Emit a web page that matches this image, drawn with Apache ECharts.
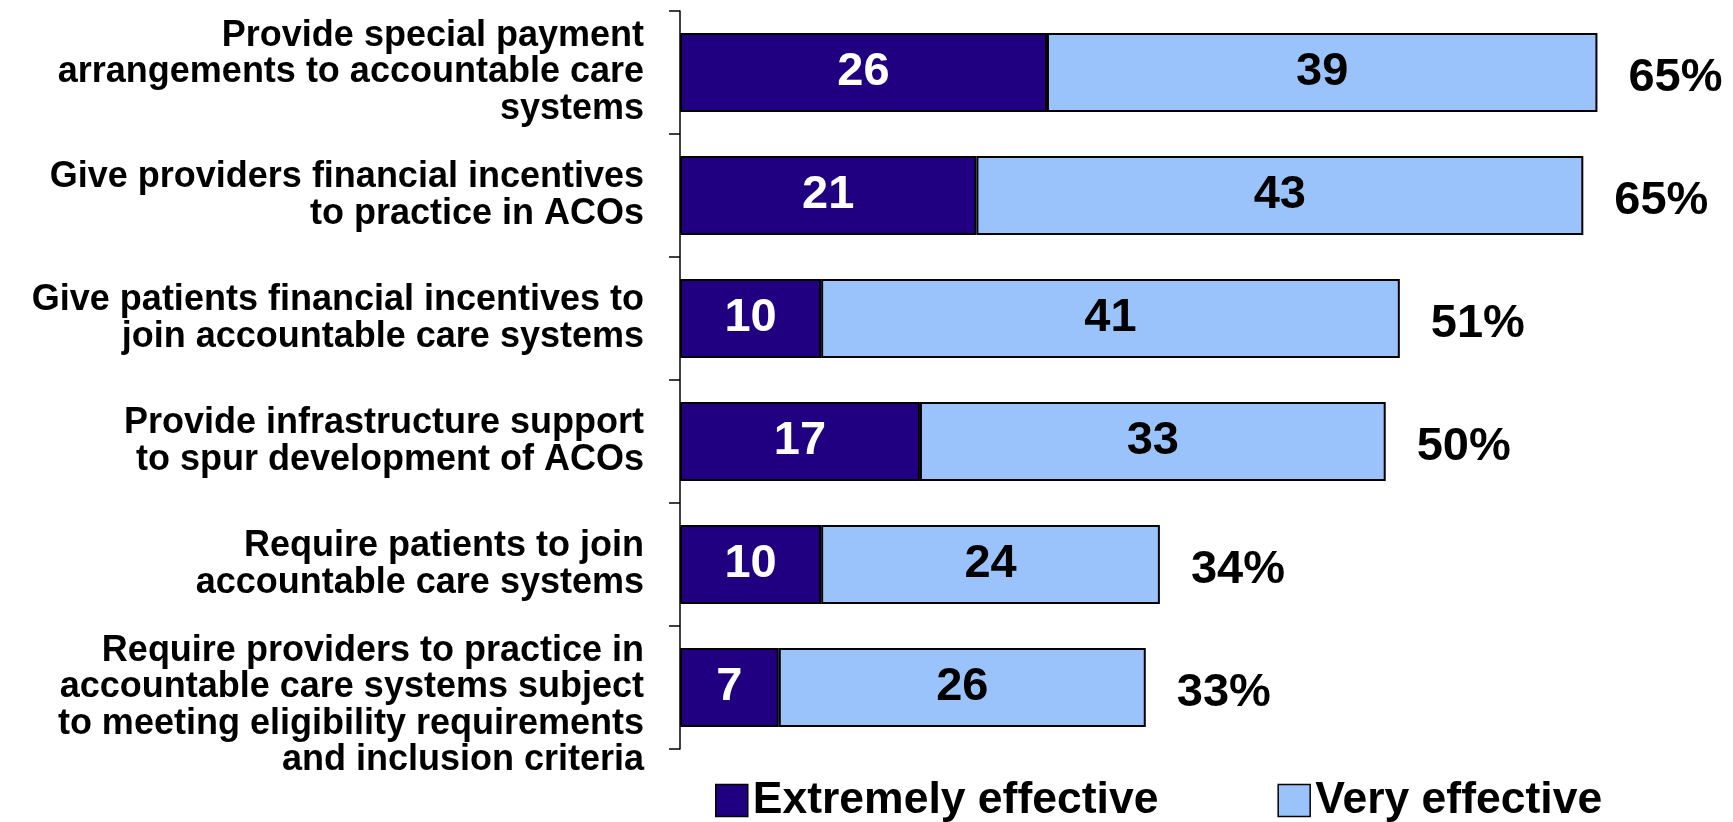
<!DOCTYPE html>
<html>
<head>
<meta charset="utf-8">
<script src="https://cdn.jsdelivr.net/npm/echarts@6/dist/echarts.min.js"></script>
<style>
html,body{margin:0;padding:0;background:#fff;}
#chart{width:1733px;height:822px;}
</style>
</head>
<body>
<div id="chart"></div>
<script>
const categories = [
  "Provide special payment\narrangements to accountable care\nsystems",
  "Give providers financial incentives\nto practice in ACOs",
  "Give patients financial incentives to\njoin accountable care systems",
  "Provide infrastructure support\nto spur development of ACOs",
  "Require patients to join\naccountable care systems",
  "Require providers to practice in\naccountable care systems subject\nto meeting eligibility requirements\nand inclusion criteria"
];
const extremelyEffective = [26, 21, 10, 17, 10, 7];
const veryEffective = [39, 43, 41, 33, 24, 26];
const totalLabels = ["65%", "65%", "51%", "50%", "34%", "33%"];
const seriesNames = ["Extremely effective", "Very effective"];

const FONT = "'Liberation Sans', Arial, Helvetica, sans-serif";
const DARK = "#200080";
const LIGHT = "#99C3FA";

const chart = echarts.init(document.getElementById('chart'));
chart.setOption({
  animation: false,
  backgroundColor: '#ffffff',
  textStyle: { fontFamily: FONT },
  grid: { left: 680, top: 11, height: 738, right: 65 },
  legend: {
    data: seriesNames,
    left: 710,
    top: 773,
    icon: 'rect',
    itemWidth: 32,
    itemHeight: 32,
    itemGap: 119,
    textStyle: { fontFamily: FONT, fontWeight: 'bold', fontSize: 44.5, color: '#000', lineHeight: 44 },
    itemStyle: { borderColor: '#000', borderWidth: 1.5 }
  },
  xAxis: {
    type: 'value', min: 0, max: 70, show: false,
    splitLine: { show: false }
  },
  yAxis: {
    type: 'category',
    inverse: true,
    data: categories,
    axisLine: { show: true, lineStyle: { color: '#000', width: 1.5 } },
    axisTick: { show: true, length: 11, lineStyle: { color: '#000', width: 1.5 } },
    axisLabel: {
      interval: 0,
      hideOverlap: false,
      showMinLabel: true,
      showMaxLabel: true,
      margin: 36,
      fontFamily: FONT,
      fontWeight: 'bold',
      fontSize: 36,
      lineHeight: 36.5,
      color: '#000',
      align: 'right',
      formatter: (v, i) => (i === categories.length - 1 ? '\n' + v : v)
    }
  },
  series: [
    {
      name: seriesNames[0], type: 'bar', stack: 'a', barWidth: 79,
      data: extremelyEffective,
      itemStyle: { color: DARK, borderColor: '#000', borderWidth: 2 },
      label: { show: true, position: 'inside', color: '#fff', fontFamily: FONT, fontWeight: 'bold', fontSize: 47 }
    },
    {
      name: seriesNames[1], type: 'bar', stack: 'a', barWidth: 79,
      data: veryEffective,
      itemStyle: { color: LIGHT, borderColor: '#000', borderWidth: 2 },
      label: { show: true, position: 'inside', color: '#000', fontFamily: FONT, fontWeight: 'bold', fontSize: 47 }
    },
    {
      name: 'total', type: 'bar', stack: 'a', barWidth: 79,
      data: categories.map(() => 0),
      itemStyle: { color: 'rgba(0,0,0,0)', borderWidth: 0 },
      label: {
        show: true, position: 'right', distance: 31, offset: [0, 6],
        color: '#000', fontFamily: FONT, fontWeight: 'bold', fontSize: 47,
        formatter: p => totalLabels[p.dataIndex]
      },
      silent: true
    }
  ]
});
</script>
</body>
</html>
